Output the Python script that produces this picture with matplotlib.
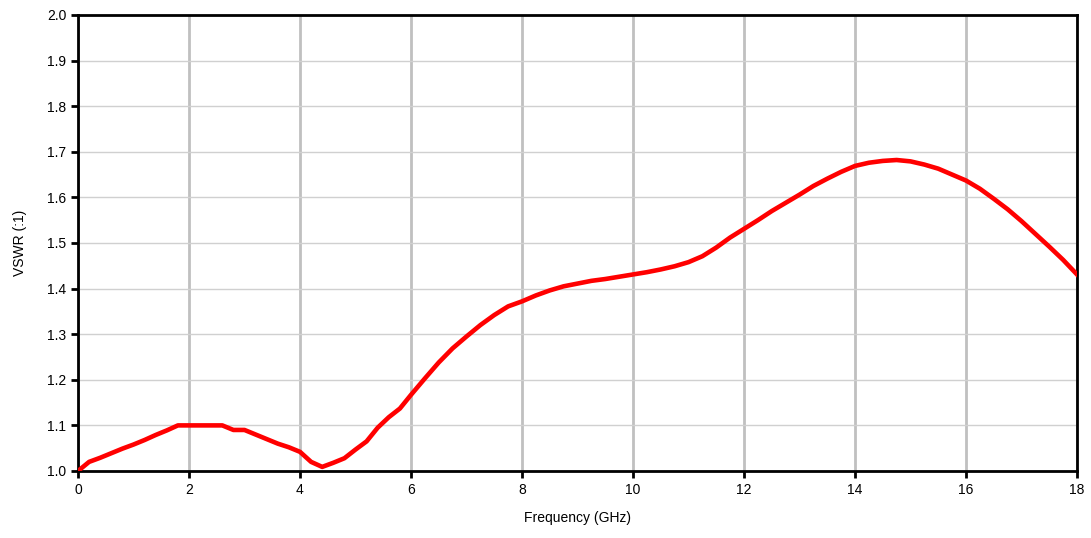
import numpy as np
import matplotlib.pyplot as plt

plt.rcParams['font.family'] = ['Liberation Sans', 'DejaVu Sans']

# frequency (GHz) and VSWR
freq = [0, 0.2, 0.4, 0.6, 0.8, 1.0, 1.2, 1.4, 1.6, 1.8, 2.0, 2.2, 2.4, 2.6, 2.8, 3.0,
        3.2, 3.4, 3.6, 3.8, 4.0, 4.2, 4.4, 4.6, 4.8, 5.0, 5.2, 5.4, 5.6, 5.8, 6.0,
        6.25, 6.5, 6.75, 7.0, 7.25, 7.5, 7.75, 8.0, 8.25, 8.5, 8.75, 9.0, 9.25, 9.5,
        9.75, 10.0, 10.25, 10.5, 10.75, 11.0, 11.25, 11.5, 11.75, 12.0, 12.25, 12.5,
        12.75, 13.0, 13.25, 13.5, 13.75, 14.0, 14.25, 14.5, 14.75, 15.0, 15.25, 15.5,
        15.75, 16.0, 16.25, 16.5, 16.75, 17.0, 17.25, 17.5, 17.75, 18.0]
vswr = [1.0, 1.02, 1.029, 1.039, 1.049, 1.058, 1.068, 1.079, 1.089, 1.1, 1.1, 1.1, 1.1, 1.1,
        1.09, 1.09, 1.08, 1.07, 1.06, 1.052, 1.042, 1.02, 1.009, 1.018, 1.028, 1.047,
        1.065, 1.095, 1.118, 1.137, 1.167,
        1.203, 1.238, 1.269, 1.295, 1.320, 1.342, 1.361, 1.372, 1.385, 1.396, 1.405,
        1.411, 1.417, 1.421, 1.426, 1.431, 1.436, 1.442, 1.449, 1.458, 1.471, 1.490,
        1.512, 1.531, 1.550, 1.570, 1.588, 1.606, 1.625, 1.641, 1.656, 1.669, 1.676,
        1.680, 1.682, 1.679, 1.672, 1.663, 1.650, 1.637, 1.619, 1.597, 1.574, 1.548,
        1.520, 1.492, 1.463, 1.431]

fig = plt.figure(figsize=(10.91, 5.38), dpi=100)
ax = fig.add_axes([78/1091, 1-471/538, 999/1091, 456/538])

ax.plot(freq, vswr, color='#ff0000', lw=3.3, solid_joinstyle='round', zorder=3)

ax.set_xlim(0, 18)
ax.set_ylim(1.0, 2.0)
ax.set_xticks(np.arange(0, 19, 2))
ax.set_yticks(np.arange(1.0, 2.01, 0.1))
ax.set_yticklabels(['%.1f' % v for v in np.arange(1.0, 2.01, 0.1)])

ax.grid(axis='x', color='#c0c0c0', lw=2)
ax.grid(axis='y', color='#d0d0d0', lw=1)
ax.set_axisbelow(True)

for s in ax.spines.values():
    s.set_linewidth(2)
    s.set_color('black')
ax.tick_params(direction='out', length=5, width=2, labelsize=10, colors='black')

ax.set_xlabel('Frequency (GHz)', fontsize=10, labelpad=10)
ax.set_ylabel('VSWR (:1)', fontsize=10, labelpad=14)

fig.savefig('out.png', dpi=100)
